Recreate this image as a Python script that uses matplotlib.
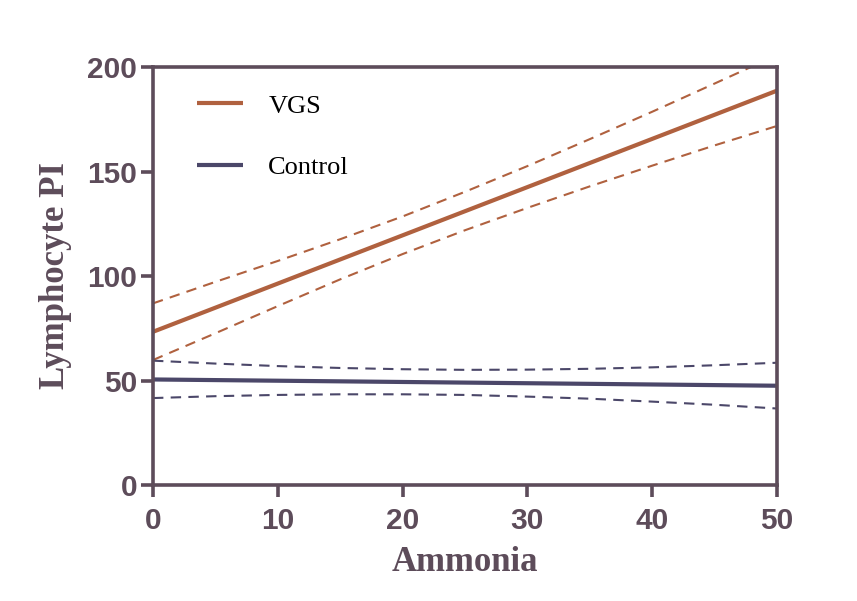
"""Lymphocyte PI vs ammonia, linear fits with 95% bands."""
import matplotlib
matplotlib.use('Agg')
from matplotlib import pyplot as plt


#
# Data
#
fit_x = [0, 50]
vgs_fit = [73.3, 188.7]
control_fit = [50.5, 47.5]

band_x = [0, 5, 10, 15, 20, 25, 30, 35, 40, 45, 50]
vgs_upper = [86.9, 97.2, 107.2, 117.6, 128.5, 140.3, 152.6, 165.5, 178.6, 192.1, 205.7]
vgs_lower = [59.8, 72.6, 85.6, 98.4, 110.5, 121.9, 132.6, 142.9, 152.8, 162.5, 171.8]
control_upper = [59.5, 58.1, 56.9, 56.0, 55.4, 55.1, 55.2, 55.6, 56.3, 57.3, 58.5]
control_lower = [41.6, 42.5, 43.1, 43.4, 43.4, 43.1, 42.3, 41.3, 39.9, 38.4, 36.6]

x_ticks = [0, 10, 20, 30, 40, 50]
y_ticks = [0, 50, 100, 150, 200]


#
# Parameters
#
colours = {'VGS': '#b0613f',
           'Control': '#4b4769'}
axis_colour = '#5d4c5a'
tick_font = ['Liberation Sans', 'DejaVu Sans']
label_font = ['Liberation Serif', 'DejaVu Serif']


#
# Plot
#
fig = plt.figure(figsize=(8.57, 6.01), dpi=100)
ax = fig.add_axes([0.1785, 0.193, 0.7282, 0.6955])

ax.plot(fit_x, vgs_fit, '-', lw=3, color=colours['VGS'], label='VGS',
        solid_capstyle='butt')
ax.plot(band_x, vgs_upper, '--', lw=1.5, color=colours['VGS'], dashes=(5, 3.5))
ax.plot(band_x, vgs_lower, '--', lw=1.5, color=colours['VGS'], dashes=(5, 3.5))

ax.plot(fit_x, control_fit, '-', lw=3, color=colours['Control'], label='Control',
        solid_capstyle='butt')
ax.plot(band_x, control_upper, '--', lw=1.5, color=colours['Control'], dashes=(5, 3.5))
ax.plot(band_x, control_lower, '--', lw=1.5, color=colours['Control'], dashes=(5, 3.5))

ax.set_xlim(0, 50)
ax.set_ylim(0, 200)
ax.set_xticks(x_ticks)
ax.set_yticks(y_ticks)

for side in ['top', 'right', 'left', 'bottom']:
    ax.spines[side].set_color(axis_colour)
    ax.spines[side].set_linewidth(2.6)
ax.tick_params(direction='out', length=8.5, width=2.6, color=axis_colour,
               labelcolor=axis_colour)
ax.tick_params(axis='x', pad=7)
ax.tick_params(axis='y', pad=3)
for lab in ax.get_xticklabels() + ax.get_yticklabels():
    lab.set_family(tick_font)
    lab.set_fontweight('bold')
    lab.set_fontsize(21.5)

ax.set_xlabel('Ammonia', family=label_font, fontweight='bold', fontsize=25,
              color=axis_colour, labelpad=8)
ax.set_ylabel('Lymphocyte PI', family=label_font, fontweight='bold', fontsize=25,
              color=axis_colour, labelpad=11)

leg = ax.legend(loc='upper left', bbox_to_anchor=(0.0705, 0.935), frameon=False,
                borderpad=0, borderaxespad=0, handlelength=1.75,
                handletextpad=0.95, labelspacing=1.45,
                prop={'family': label_font, 'size': 19})

plt.savefig('out.png', dpi=100, facecolor='white')
